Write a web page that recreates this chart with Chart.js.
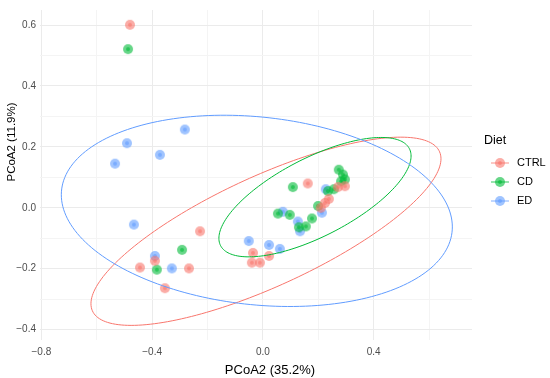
<!DOCTYPE html>
<html>
<head>
<meta charset="utf-8">
<script src="https://cdn.jsdelivr.net/npm/chart.js@4.4.1/dist/chart.umd.min.js"></script>
<style>
  html, body { margin: 0; padding: 0; background: #fff; }
  #wrap { width: 550px; height: 378px; }
</style>
</head>
<body>
<div id="wrap"><canvas id="pcoaChart"></canvas></div>
<script>
// Diet groups
const groups = ['CTRL', 'CD', 'ED'];
const groupColors = ['#F8766D', '#00BA38', '#619CFF'];

// PCoA scores per sample
const ctrlX = [-0.480, -0.227, -0.444, -0.267, -0.354, -0.390, -0.036, -0.040, -0.011, 0.022, 0.162, 0.271, 0.296, 0.238, 0.224, 0.209];
const ctrlY = [0.601, -0.077, -0.196, -0.199, -0.264, -0.174, -0.148, -0.180, -0.180, -0.158, 0.080, 0.068, 0.071, 0.029, 0.016, 0.000];

const cdX = [-0.487, -0.292, -0.383, 0.054, 0.108, 0.097, 0.177, 0.130, 0.155, 0.199, 0.274, 0.289, 0.296, 0.282, 0.256, 0.235];
const cdY = [0.521, -0.138, -0.203, -0.019, 0.068, -0.023, -0.035, -0.064, -0.061, 0.006, 0.125, 0.109, 0.093, 0.087, 0.061, 0.055];

const edX = [-0.282, -0.491, -0.372, -0.534, -0.466, -0.390, -0.329, -0.051, 0.022, 0.061, 0.072, 0.126, 0.134, 0.213, 0.227];
const edY = [0.257, 0.212, 0.174, 0.145, -0.055, -0.158, -0.199, -0.109, -0.122, -0.135, -0.013, -0.045, -0.077, -0.016, 0.061];

// confidence ellipse per group: centre, half extent in x / y, correlation
const ellipseCX = [0.011, 0.188, -0.022];
const ellipseCY = [-0.077, 0.035, -0.010];
const ellipseSX = [0.632, 0.347, 0.706];
const ellipseSY = [0.309, 0.196, 0.314];
const ellipseRho = [0.770, 0.689, -0.168];

// axis ticks ('' = minor grid line only)
const xTicks = [-0.8, -0.6, -0.4, -0.2, 0, 0.2, 0.4, 0.6];
const xTickLabels = ['\u22120.8', '', '\u22120.4', '', '0.0', '', '0.4', ''];
const yTicks = [-0.4, -0.3, -0.2, -0.1, 0, 0.1, 0.2, 0.3, 0.4, 0.5, 0.6];
const yTickLabels = ['\u22120.4', '', '\u22120.2', '', '0.0', '', '0.2', '', '0.4', '', '0.6'];

const xTitle = 'PCoA2 (35.2%)';
const yTitle = 'PCoA2 (11.9%)';
const legendTitle = 'Diet';

const FONT = '"Liberation Sans", Arial, sans-serif';

// semi transparent point with darker centre, like the ggplot points
function makeDot(color) {
    const c = document.createElement('canvas');
    c.width = 12;
    c.height = 12;
    const g = c.getContext('2d');
    g.globalAlpha = 0.6;
    g.fillStyle = color;
    g.beginPath();
    g.arc(6, 6, 5, 0, Math.PI * 2);
    g.fill();
    g.beginPath();
    g.arc(6, 6, 2, 0, Math.PI * 2);
    g.fill();
    return c;
}

const seriesX = [ctrlX, cdX, edX];
const seriesY = [ctrlY, cdY, edY];

const datasets = groups.map((name, i) => ({
    label: name,
    data: seriesX[i].map((x, j) => ({ x: x, y: seriesY[i][j] })),
    pointStyle: makeDot(groupColors[i]),
    pointRadius: 5,
    pointHoverRadius: 5
}));

const ellipsePlugin = {
    id: 'ellipses',
    afterDatasetsDraw(chart) {
        const { ctx, scales: { x, y } } = chart;
        ctx.save();
        ctx.beginPath();
        ctx.rect(chart.chartArea.left, chart.chartArea.top, chart.chartArea.width, chart.chartArea.height);
        ctx.clip();
        groups.forEach((name, i) => {
            const r = ellipseRho[i];
            const k = Math.sqrt(1 - r * r);
            ctx.beginPath();
            for (let s = 0; s <= 200; s++) {
                const t = s / 200 * Math.PI * 2;
                const dx = ellipseSX[i] * Math.cos(t);
                const dy = ellipseSY[i] * (r * Math.cos(t) + k * Math.sin(t));
                const px = x.getPixelForValue(ellipseCX[i] + dx);
                const py = y.getPixelForValue(ellipseCY[i] + dy);
                if (s === 0) ctx.moveTo(px, py); else ctx.lineTo(px, py);
            }
            ctx.strokeStyle = groupColors[i];
            ctx.lineWidth = 1;
            ctx.stroke();
        });
        ctx.restore();
    }
};

// axis titles + legend placed like the ggplot output
const annotatePlugin = {
    id: 'annotate',
    afterDraw(chart) {
        const ctx = chart.ctx;
        ctx.save();
        ctx.fillStyle = '#000';
        ctx.textBaseline = 'middle';

        ctx.textAlign = 'center';
        ctx.font = '13px ' + FONT;
        ctx.fillText(xTitle, 270, 370);

        ctx.save();
        ctx.translate(12, 142);
        ctx.rotate(-Math.PI / 2);
        ctx.font = '11.5px ' + FONT;
        ctx.fillText(yTitle, 0, 0);
        ctx.restore();

        ctx.textAlign = 'left';
        ctx.font = '12.5px ' + FONT;
        ctx.fillText(legendTitle, 484, 141);

        ctx.font = '11px ' + FONT;
        groups.forEach((name, i) => {
            const yy = 163 + i * 19;
            ctx.globalAlpha = 0.8;
            ctx.strokeStyle = groupColors[i];
            ctx.lineWidth = 1;
            ctx.beginPath();
            ctx.moveTo(491, yy);
            ctx.lineTo(509, yy);
            ctx.stroke();
            ctx.globalAlpha = 1;
            ctx.drawImage(datasets[i].pointStyle, 494, yy - 6);
            ctx.fillStyle = '#000';
            ctx.fillText(name, 517, yy);
        });
        ctx.restore();
    }
};

const tickFont = { family: FONT, size: 10 };

new Chart(document.getElementById('pcoaChart'), {
    type: 'scatter',
    data: { datasets: datasets },
    options: {
        responsive: true,
        maintainAspectRatio: false,
        animation: false,
        layout: { padding: { top: 3, right: 78, left: 0, bottom: 0 } },
        plugins: {
            legend: { display: false },
            tooltip: { enabled: false }
        },
        scales: {
            x: {
                type: 'linear',
                min: -0.805,
                max: 0.755,
                afterBuildTicks: s => { s.ticks = xTicks.map(v => ({ value: v })); },
                afterFit: s => { s.height = 38; },
                ticks: {
                    callback: (v, i) => xTickLabels[i],
                    color: '#4D4D4D',
                    font: tickFont,
                    padding: 6,
                    maxRotation: 0,
                    autoSkip: false
                },
                grid: {
                    color: c => xTickLabels[c.index] ? '#EBEBEB' : '#F4F4F4',
                    drawTicks: false
                },
                border: { display: false }
            },
            y: {
                type: 'linear',
                min: -0.434,
                max: 0.6495,
                afterBuildTicks: s => { s.ticks = yTicks.map(v => ({ value: v })); },
                afterFit: s => { s.width = 40; },
                ticks: {
                    callback: (v, i) => yTickLabels[i],
                    color: '#4D4D4D',
                    font: tickFont,
                    padding: 4,
                    autoSkip: false
                },
                grid: {
                    color: c => yTickLabels[c.index] ? '#EBEBEB' : '#F4F4F4',
                    drawTicks: false
                },
                border: { display: false }
            }
        }
    },
    plugins: [ellipsePlugin, annotatePlugin]
});
</script>
</body>
</html>
